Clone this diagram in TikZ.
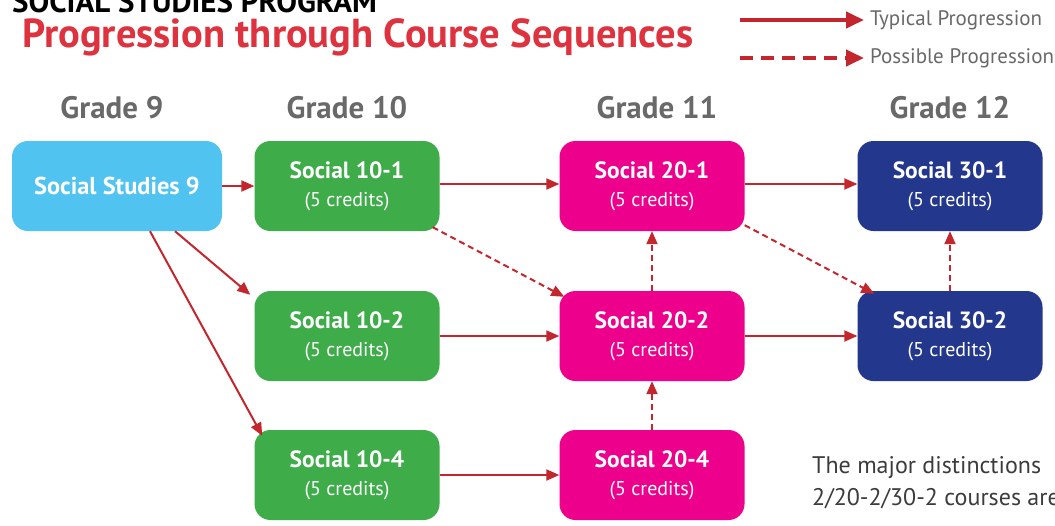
\documentclass[tikz,border=0pt]{standalone}
\usepackage{fontspec}
\setmainfont{PT Sans}
\definecolor{skyblue}{RGB}{80,195,240}
\definecolor{leafgreen}{RGB}{61,172,73}
\definecolor{hotpink}{RGB}{236,0,140}
\definecolor{navyblue}{RGB}{35,55,140}
\definecolor{arrowred}{RGB}{196,38,46}
\definecolor{titlered}{RGB}{222,50,62}
\definecolor{gradegrey}{RGB}{105,105,105}
\definecolor{notegrey}{RGB}{60,60,60}
\usetikzlibrary{arrows.meta,positioning}

\tikzset{
  course/.style={rounded corners=16pt, minimum width=185pt, minimum height=90pt,
    text=white, align=center, inner sep=2pt, font=\fontsize{20}{24}\selectfont},
  grade/.style={anchor=base, text=gradegrey, font=\bfseries\fontsize{31}{34}\selectfont},
  typical/.style={draw=arrowred, line width=2pt, -{Triangle[length=13pt,width=11pt]}},
  possible/.style={typical, dash pattern=on 6pt off 4pt},
  legtypical/.style={draw=arrowred, line width=4pt, -{Triangle[length=18pt,width=16pt]}},
  legpossible/.style={legtypical, dash pattern=on 13pt off 8pt},
}
\newcommand{\coursetext}[1]{{\bfseries\fontsize{23.5}{26}\selectfont #1}\\[4pt](5 credits)}

\begin{document}
\begin{tikzpicture}[x=1pt, y=-1pt]
  \clip (0,0) rectangle (1055,525);
  \fill[white] (0,0) rectangle (1055,525);

  % titles
  \node[anchor=base west, inner sep=0pt, font=\bfseries\fontsize{31}{34}\selectfont] (prog) at (12,12) {SOCIAL STUDIES PROGRAM};
  \node[anchor=base west, inner sep=0pt, text=titlered, font=\bfseries\fontsize{40.5}{44}\selectfont] (title) at (22,47) {Progression through Course Sequences};

  % legend
  \coordinate (typstart) at (740,20);
  \coordinate (posstart) at (740,58);
  \node[anchor=west, inner sep=0pt, text=gradegrey, font=\fontsize{21}{24}\selectfont] (typlbl) at (870,20) {Typical Progression};
  \node[anchor=west, inner sep=0pt, text=gradegrey, font=\fontsize{21}{24}\selectfont] (poslbl) at (870,58) {Possible Progression};
  \draw[legtypical] (typstart) -- ([xshift=-6pt]typlbl.west);
  \draw[legpossible] (posstart) -- ([xshift=-6pt]poslbl.west);

  % grade headings
  \node[grade] (g9) at (112,118) {Grade 9};
  \node[grade] (g10) at (347,118) {Grade 10};
  \node[grade] (g11) at (657,118) {Grade 11};
  \node[grade] (g12) at (950,118) {Grade 12};

  % courses
  \node[course, fill=skyblue, minimum width=210pt] (ss9) at (117,186) {\bfseries\fontsize{24.4}{26}\selectfont Social Studies 9};
  \node[course, fill=leafgreen] (s101) at (347,186) {\coursetext{Social 10-1}};
  \node[course, fill=leafgreen] (s102) at (347,336) {\coursetext{Social 10-2}};
  \node[course, fill=leafgreen] (s104) at (347,475) {\coursetext{Social 10-4}};
  \node[course, fill=hotpink] (s201) at (652,186) {\coursetext{Social 20-1}};
  \node[course, fill=hotpink] (s202) at (652,336) {\coursetext{Social 20-2}};
  \node[course, fill=hotpink] (s204) at (652,475) {\coursetext{Social 20-4}};
  \node[course, fill=navyblue] (s301) at (950,186) {\coursetext{Social 30-1}};
  \node[course, fill=navyblue] (s302) at (950,336) {\coursetext{Social 30-2}};

  % typical progression
  \draw[typical] (ss9.east) -- (s101.west);
  \draw[typical] ([xshift=58pt]ss9.south) -- ([xshift=-4pt,yshift=-4pt]s102.north west);
  \draw[typical] ([xshift=33pt]ss9.south) -- ([xshift=8pt,yshift=-6pt]s104.north west);
  \draw[typical] ([yshift=2pt]s101.east) -- ([yshift=2pt]s201.west);
  \draw[typical] (s102.east) -- (s202.west);
  \draw[typical] (s104.east) -- (s204.west);
  \draw[typical] ([yshift=2pt]s201.east) -- ([yshift=2pt]s301.west);
  \draw[typical] (s202.east) -- (s302.west);

  % possible progression
  \draw[possible] ([xshift=-7pt,yshift=4pt]s101.south east) -- ([xshift=5pt,yshift=-6pt]s202.north west);
  \draw[possible] ([yshift=6pt]s201.south east) -- ([xshift=17pt,yshift=-3pt]s302.north west);
  \draw[possible] (s202.north) -- (s201.south);
  \draw[possible] (s204.north) -- (s202.south);
  \draw[possible] (s302.north) -- (s301.south);

  % note
  \node[anchor=base west, inner sep=0pt, text=notegrey, align=left, font=\fontsize{24}{32}\selectfont] (note) at (812,505)
    {The major distinctions\\2/20-2/30-2 courses are};
\end{tikzpicture}
\end{document}
